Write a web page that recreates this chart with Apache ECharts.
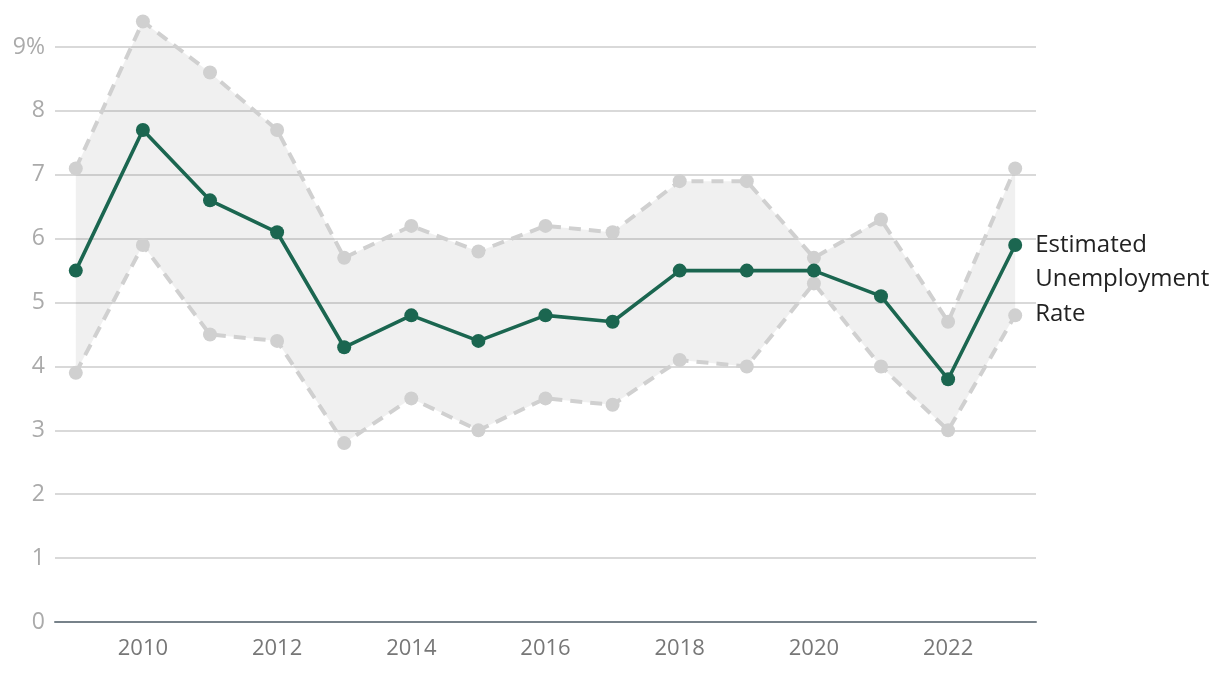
<!DOCTYPE html>
<html><head><meta charset="utf-8">
<script src="https://cdn.jsdelivr.net/npm/echarts@6/dist/echarts.min.js"></script>
<style>html,body{margin:0;padding:0;background:#fff}#c{width:1220px;height:678px}</style>
</head><body><div id="c"></div>
<script>
const years = [2009,2010,2011,2012,2013,2014,2015,2016,2017,2018,2019,2020,2021,2022,2023];
const estimate = [5.5,7.7,6.6,6.1,4.3,4.8,4.4,4.8,4.7,5.5,5.5,5.5,5.1,3.8,5.9];
const upper = [7.1,9.4,8.6,7.7,5.7,6.2,5.8,6.2,6.1,6.9,6.9,5.7,6.3,4.7,7.1];
const lower = [3.9,5.9,4.5,4.4,2.8,3.5,3.0,3.5,3.4,4.1,4.0,5.3,4.0,3.0,4.8];
const xTickLabels = [2010,2012,2014,2016,2018,2020,2022];

const pairs = arr => years.map((y,i)=>[y,arr[i]]);
const font = '"Open Sans", "Noto Sans", sans-serif';

const chart = echarts.init(document.getElementById('c'));
chart.setOption({
  animation:false,
  grid:{left:55,right:184,top:47,bottom:56,containLabel:false},
  xAxis:{type:'value',min:2008.69,max:2023.31,
    axisLine:{show:true,lineStyle:{color:'#77828a',width:2}},
    axisTick:{show:false},splitLine:{show:false},
    axisLabel:{customValues:xTickLabels,color:'#777',fontSize:22,fontFamily:font,margin:16,formatter:v=>String(v)}},
  yAxis:{type:'value',min:0,max:9,interval:1,
    axisLine:{show:false},axisTick:{show:false},
    splitLine:{lineStyle:{color:'#cccccc',width:1.5}},
    axisLabel:{color:'#aaa',fontSize:23,fontFamily:font,margin:10,formatter:v=>v===9?'9%':String(v)}},
  series:[
    {type:'custom',clip:false,silent:true,z:1,
      data:[[0]],
      renderItem:(params,api)=>{
        const top = years.map((y,i)=>api.coord([y,upper[i]]));
        const bot = years.map((y,i)=>api.coord([y,lower[i]])).reverse();
        return {type:'polygon',shape:{points:top.concat(bot)},style:{fill:'rgba(0,0,0,0.06)'}};
      }},
    {type:'line',data:pairs(upper),symbol:'circle',symbolSize:14,clip:false,z:2,
      itemStyle:{color:'#d0d0d0'},lineStyle:{color:'#d0d0d0',width:4,type:[12,8]}},
    {type:'line',data:pairs(lower),symbol:'circle',symbolSize:14,clip:false,z:2,
      itemStyle:{color:'#d0d0d0'},lineStyle:{color:'#d0d0d0',width:4,type:[12,8]}},
    {type:'line',data:pairs(estimate),symbol:'circle',symbolSize:14,clip:false,z:3,
      itemStyle:{color:'#1b6650'},lineStyle:{color:'#1b6650',width:3.6},
      endLabel:{show:true,formatter:'Estimated\nUnemployment\nRate',color:'#222',fontSize:24,fontFamily:font,
        lineHeight:34.5,align:'left',verticalAlign:'middle',distance:20,offset:[0,34.5]}}
  ]
});
</script></body></html>
